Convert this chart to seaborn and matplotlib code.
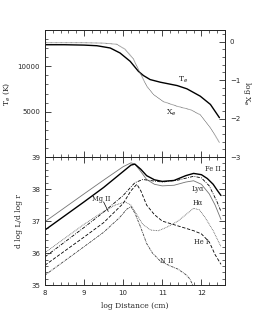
import numpy as np
import pandas as pd
import matplotlib
matplotlib.use("Agg")
import matplotlib.pyplot as plt
from matplotlib.ticker import MultipleLocator
import seaborn as sns

# --- panneau du haut : température et fraction d'ionisation
dist_top = [8.0, 8.5, 9.0, 9.33, 9.67, 9.92, 10.18, 10.39, 10.52, 10.69, 10.95, 11.38, 11.63, 11.97, 12.23, 12.46]
temp_e = [12380, 12380, 12340, 12270, 12020, 11470, 10550, 9450, 8980, 8540, 8250, 7880, 7520, 6710, 5800, 4340]

dist_xe = [8.0, 8.5, 9.0, 9.5, 9.84, 10.05, 10.26, 10.44, 10.61, 10.78, 11.03, 11.38, 11.72, 11.97, 12.23, 12.46]
log_xe = [-0.03, -0.03, -0.03, -0.04, -0.07, -0.2, -0.45, -0.83, -1.17, -1.38, -1.56, -1.68, -1.77, -1.9, -2.24, -2.62]

# --- panneau du bas : contributions des raies
dist_fe = [8.0, 9.0, 9.5, 10.0, 10.2, 10.3, 10.45, 10.6, 10.8, 11.0, 11.3, 11.6, 11.8, 12.0, 12.15, 12.3, 12.4, 12.5]
fe2 = [36.72, 37.6, 38.05, 38.55, 38.75, 38.78, 38.62, 38.42, 38.29, 38.24, 38.27, 38.42, 38.49, 38.45, 38.33, 38.15, 37.97, 37.8]

dist_lya = [8.0, 9.0, 9.5, 10.0, 10.2, 10.3, 10.45, 10.6, 10.8, 11.0, 11.3, 11.6, 11.8, 12.0, 12.2, 12.35, 12.5]
lya = [36.98, 37.85, 38.28, 38.7, 38.82, 38.78, 38.55, 38.3, 38.15, 38.1, 38.12, 38.22, 38.26, 38.15, 37.85, 37.5, 37.05]

dist_mg = [8.0, 9.0, 9.5, 10.0, 10.3, 10.5, 10.8, 11.0, 11.4, 11.8, 12.0, 12.2, 12.4, 12.5]
mg2 = [35.88, 36.8, 37.28, 37.8, 38.2, 38.3, 38.25, 38.22, 38.28, 38.4, 38.35, 38.1, 37.6, 37.3]

dist_ha = [8.0, 9.0, 9.5, 9.8, 10.05, 10.2, 10.35, 10.5, 10.7, 10.9, 11.1, 11.4, 11.6, 11.8, 11.95, 12.1, 12.3, 12.5]
halpha = [36.01, 36.9, 37.3, 37.5, 37.6, 37.5, 37.2, 36.9, 36.72, 36.7, 36.8, 37.0, 37.2, 37.4, 37.35, 37.1, 36.7, 36.2]

dist_he = [8.0, 9.0, 9.5, 10.0, 10.2, 10.35, 10.45, 10.6, 10.8, 11.0, 11.4, 11.8, 12.0, 12.2, 12.35, 12.5]
he1 = [35.62, 36.5, 36.95, 37.55, 37.95, 38.15, 37.95, 37.5, 37.2, 37.0, 36.85, 36.7, 36.6, 36.35, 35.95, 35.65]

dist_n = [8.0, 9.0, 9.5, 9.9, 10.1, 10.2, 10.3, 10.45, 10.6, 10.75, 10.95, 11.2, 11.4, 11.6, 11.7, 11.78]
n2 = [35.31, 36.2, 36.65, 37.1, 37.38, 37.45, 37.25, 36.8, 36.3, 36.0, 35.75, 35.6, 35.5, 35.33, 35.2, 35.0]

sns.set_theme(style="ticks")
plt.rcParams["font.family"] = ["DejaVu Sans"]
plt.rcParams["xtick.direction"] = "in"
plt.rcParams["ytick.direction"] = "in"

fig = plt.figure(figsize=(2.55, 3.3), dpi=100)
ax1 = fig.add_axes([0.176, 0.524, 0.706, 0.385])
ax2 = fig.add_axes([0.176, 0.136, 0.706, 0.388])

serif = {"family": "DejaVu Serif", "size": 5.5}
serif_small = {"family": "DejaVu Serif", "size": 4.8}

# haut
sns.lineplot(x=dist_top, y=temp_e, ax=ax1, color="black", lw=1.0, estimator=None)
ax1.set_xlim(8, 12.6)
ax1.set_ylim(0, 14000)
ax1.set_yticks([5000, 10000])
ax1.yaxis.set_minor_locator(MultipleLocator(1000))
ax1.xaxis.set_major_locator(MultipleLocator(1))
ax1.xaxis.set_minor_locator(MultipleLocator(0.2))
ax1.tick_params(axis="x", which="both", top=True, labelbottom=False)
ax1.tick_params(which="major", length=4, width=0.6, labelsize=5)
ax1.tick_params(which="minor", length=2, width=0.5)
ax1.set_ylabel("T$_e$ (K)", fontdict=serif, labelpad=4)
ax1.text(11.41, 8300, "T$_e$", fontdict=serif)
ax1.text(11.1, 4700, "X$_e$", fontdict=serif)

ax1b = ax1.twinx()
sns.lineplot(x=dist_xe, y=log_xe, ax=ax1b, color="0.4", lw=0.6, linestyle=(0, (1, 0.5)), estimator=None)
ax1b.set_ylim(-3, 0.3)
ax1b.set_yticks([0, -1, -2, -3])
ax1b.yaxis.set_minor_locator(MultipleLocator(0.2))
ax1b.tick_params(axis="y", which="both", right=True, left=False, direction="in")
ax1b.tick_params(which="major", length=4, width=0.6, labelsize=5)
ax1b.tick_params(which="minor", length=2, width=0.5)
ax1b.set_ylabel("log X$_e$", fontdict=serif, rotation=-90, labelpad=9)

# bas
courbes = [
    (dist_lya, lya, "0.45", 0.6, "-"),
    (dist_fe, fe2, "black", 1.0, "-"),
    (dist_mg, mg2, "black", 0.6, (0, (4, 1.5, 1, 1.5))),
    (dist_ha, halpha, "0.35", 0.6, (0, (1, 1))),
    (dist_he, he1, "black", 0.6, (0, (4, 2))),
    (dist_n, n2, "0.25", 0.6, (0, (3, 1, 1, 1))),
]
for xs, ys, col, lw, ls in courbes:
    sns.lineplot(x=xs, y=ys, ax=ax2, color=col, lw=lw, linestyle=ls, estimator=None)

ax2.set_xlim(8, 12.6)
ax2.set_ylim(35, 39)
ax2.xaxis.set_major_locator(MultipleLocator(1))
ax2.xaxis.set_minor_locator(MultipleLocator(0.2))
ax2.yaxis.set_major_locator(MultipleLocator(1))
ax2.yaxis.set_minor_locator(MultipleLocator(0.2))
ax2.tick_params(which="both", top=True, right=True)
ax2.tick_params(which="major", length=4, width=0.6, labelsize=5)
ax2.tick_params(which="minor", length=2, width=0.5)
ax2.set_xlabel("log Distance (cm)", fontdict=serif)
ax2.set_ylabel("d log L/d log r", fontdict=serif, labelpad=6)

ax2.text(12.1, 38.55, "Fe II", fontdict=serif_small)
ax2.text(11.75, 37.95, "Ly\u03b1", fontdict=serif_small)
ax2.text(11.78, 37.52, "H\u03b1", fontdict=serif_small)
ax2.text(11.8, 36.3, "He I", fontdict=serif_small)
ax2.text(10.95, 35.7, "N II", fontdict=serif_small)
ax2.text(9.2, 37.62, "Mg II", fontdict=serif_small)
ax2.plot([9.5, 9.62], [37.6, 37.3], color="black", lw=0.5)

for ax in (ax1, ax1b, ax2):
    for s in ax.spines.values():
        s.set_linewidth(0.7)

fig.savefig("out.png", dpi=100)
